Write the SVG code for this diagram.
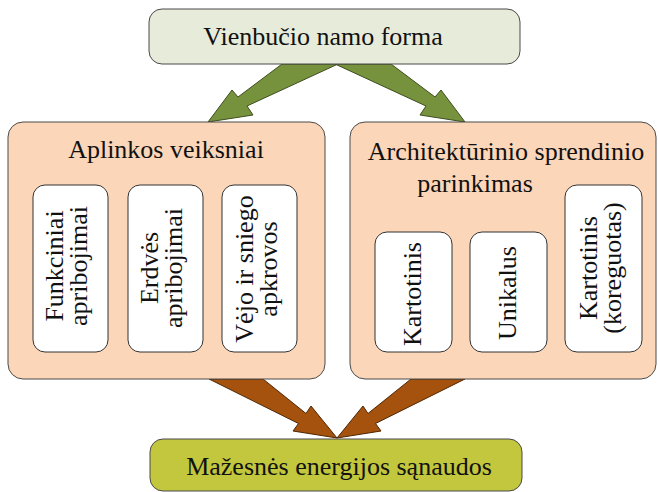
<svg xmlns="http://www.w3.org/2000/svg" width="659" height="492" viewBox="0 0 659 492">
<style>
  text { font-family: 'Liberation Serif', 'Times New Roman', 'DejaVu Serif', serif; font-size: 26px; fill: #111; }
  .c { text-anchor: middle; }
  .outer { fill: #fbd6b8; stroke: #4a4a4a; stroke-width: 1; }
  .inner { fill: #ffffff; stroke: #333333; stroke-width: 1; }
  .top { fill: #e7ebda; stroke: #4a4a4a; stroke-width: 1; }
  .bottom { fill: #c2c73d; stroke: #4a4a4a; stroke-width: 1; }
  .ga { fill: #77923c; stroke: #3e4d1f; stroke-width: 1; stroke-linejoin: miter; }
  .ba { fill: #a4520d; stroke: #4f2604; stroke-width: 1; stroke-linejoin: miter; }
</style>
<rect width="659" height="492" fill="#ffffff"/>
<g id="connectors">
  <polygon class="ga" points="282,64 338,64 247,106 253,115 208,122 232,90 238,97"/>
  <polygon class="ga" points="391,64 335,64 426,106 420,115 465,122 441,90 435,97"/>
  <polygon class="ba" points="209,379 263,379 306,413.5 311,406 337,438 293,431 298.5,423.5"/>
  <polygon class="ba" points="465,379 411,379 368,413.5 363,406 337,438 381,431 375.5,423.5"/>
</g>
<g font-family="Liberation Serif, serif">
<g id="top-node">
  <rect class="top" x="149" y="9" width="371" height="55" rx="13"/>
  <text class="c" x="323" y="45">Vienbučio namo forma</text>
</g>
<g id="left-group">
  <rect class="outer" x="8" y="122" width="317" height="257" rx="15"/>
  <text class="c" x="166" y="158">Aplinkos veiksniai</text>
</g>
<g id="node-funkciniai">
  <rect class="inner" x="33" y="185" width="75" height="167" rx="12"/>
  <text transform="translate(70.5,266) rotate(-90)" class="c"><tspan x="0" y="-8">Funkciniai</tspan><tspan x="0" y="16">apribojimai</tspan></text>
</g>
<g id="node-erdves">
  <rect class="inner" x="128" y="185" width="75" height="167" rx="12"/>
  <text transform="translate(165.5,268) rotate(-90)" class="c"><tspan x="0" y="-8">Erdvės</tspan><tspan x="0" y="16">apribojimai</tspan></text>
</g>
<g id="node-vejo">
  <rect class="inner" x="222" y="185" width="75" height="167" rx="12"/>
  <text transform="translate(259.5,269) rotate(-90)" class="c"><tspan x="0" y="-7">Vėjo ir sniego</tspan><tspan x="0" y="17">apkrovos</tspan></text>
</g>
<g id="right-group">
  <rect class="outer" x="350" y="122" width="306" height="257" rx="15"/>
  <text class="c" x="506" y="160">Architektūrinio sprendinio</text>
  <text class="c" x="475" y="192">parinkimas</text>
</g>
<g id="node-kartotinis">
  <rect class="inner" x="375" y="232" width="77" height="120" rx="12"/>
  <text transform="translate(413.5,294) rotate(-90)" class="c" x="0" y="7">Kartotinis</text>
</g>
<g id="node-unikalus">
  <rect class="inner" x="470" y="232" width="77" height="120" rx="12"/>
  <text transform="translate(508.5,293) rotate(-90)" class="c" x="0" y="7">Unikalus</text>
</g>
<g id="node-kartotinis-koreguotas">
  <rect class="inner" x="565" y="185" width="77" height="167" rx="12"/>
  <text transform="translate(603.5,268) rotate(-90)" class="c"><tspan x="0" y="-7">Kartotinis</tspan><tspan x="0" y="17">(koreguotas)</tspan></text>
</g>
<g id="bottom-node">
  <rect class="bottom" x="150" y="439" width="372" height="52" rx="13"/>
  <text class="c" x="339" y="475">Mažesnės energijos sąnaudos</text>
</g>
</g>
</svg>
